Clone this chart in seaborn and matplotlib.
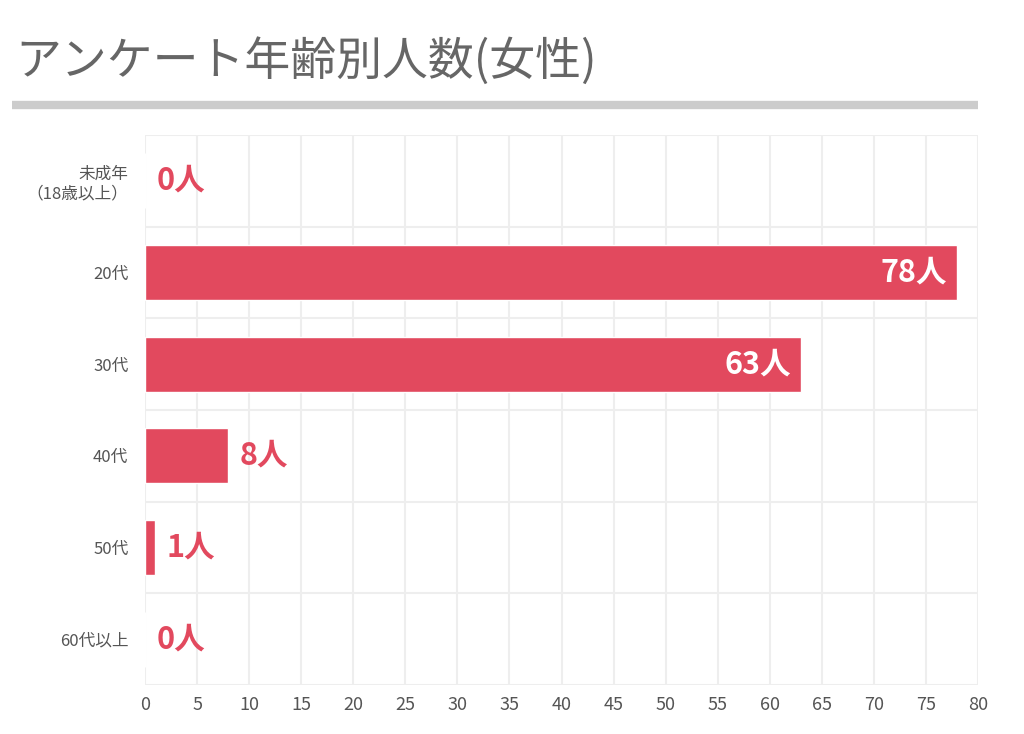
import matplotlib
matplotlib.use("Agg")
import matplotlib.pyplot as plt
import seaborn as sns
import pandas as pd
from matplotlib.lines import Line2D

categories = ["未成年\n（18歳以上）", "20代", "30代", "40代", "50代", "60代以上"]
values = [0, 78, 63, 8, 1, 0]
xticks = list(range(0, 85, 5))
title = "アンケート年齢別人数(女性)"

sns.set_style("white")
plt.rcParams['font.family'] = ['Noto Sans CJK JP', 'DejaVu Sans']

df = pd.DataFrame({"cat": categories, "val": values})
fig = plt.figure(figsize=(10.24, 7.34), dpi=100)
ax = fig.add_axes([145/1024, 1-685/734, (978-145)/1024, (685-135)/734])
red = "#E2495E"
sns.barplot(data=df, y="cat", x="val", color=red, saturation=1, width=0.6, ax=ax)
ax.set_xlim(0, 80)
ax.set_ylim(len(categories)-0.5, -0.5)
ax.set_xticks(xticks)
ax.set_xlabel(""); ax.set_ylabel("")
for x in xticks:
    ax.axvline(x, color="#EEEEEE", lw=1.5, zorder=0)
for i in range(len(categories)+1):
    ax.axhline(i-0.5, color="#EEEEEE", lw=1.5, zorder=0)
for s in ax.spines.values():
    s.set_visible(False)
ax.tick_params(axis="x", labelsize=13, colors="#555555", length=0, pad=8)
ax.tick_params(axis="y", labelsize=12, colors="#555555", length=0, pad=12)
for i, v in enumerate(values):
    if v > 20:
        ax.text(v-1, i, f"{v}人", ha="right", va="center", color="white", fontsize=22, fontweight="bold")
    else:
        ax.text(v+1.1, i, f"{v}人", ha="left", va="center", color=red, fontsize=22, fontweight="bold")
fig.text(15/1024, 1-62/734, title, fontsize=33, color="#666666", va="center", ha="left")
fig.add_artist(Line2D([12/1024, 978/1024], [1-105/734, 1-105/734], color="#CCCCCC", lw=6,
                      solid_capstyle="butt"))
fig.savefig("out.png", dpi=100, facecolor="white")
